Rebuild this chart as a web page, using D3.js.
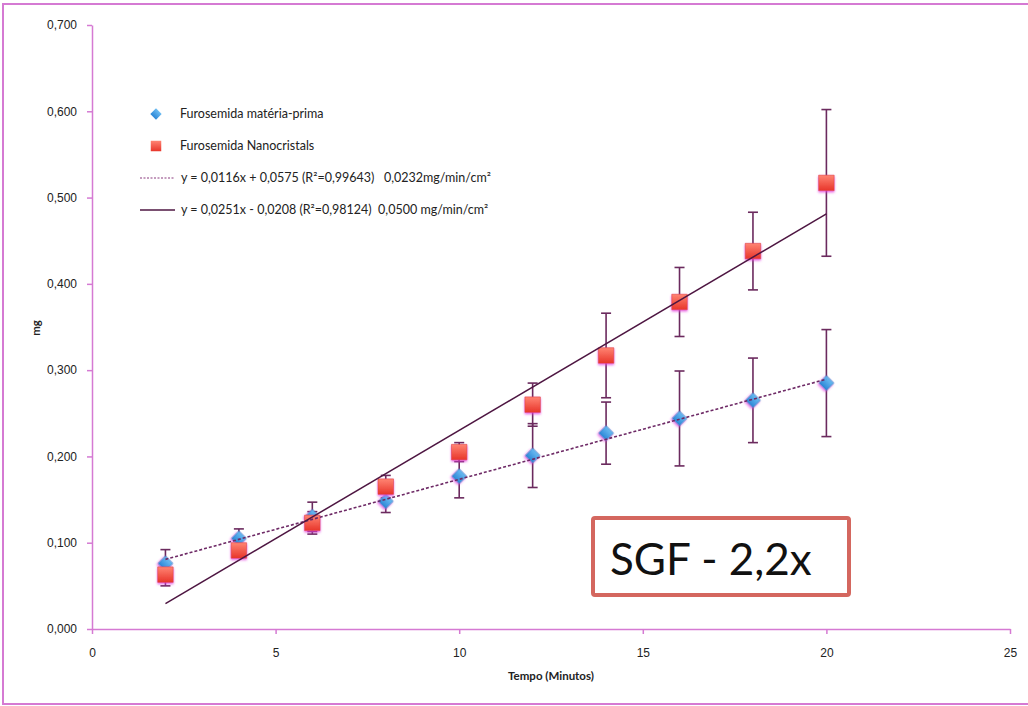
<!DOCTYPE html>
<html>
<head>
<meta charset="utf-8">
<script src="https://cdn.jsdelivr.net/npm/d3@7"></script>
<style>
  body { margin: 0; background: #fff; }
  svg { display: block; font-family: Lato, "Open Sans", sans-serif; }
  .tick text { fill: #222; font-size: 12px; }
</style>
</head>
<body>
<div id="chart"></div>
<script>
// tempo (min)
const tempo = [2, 4, 6, 8, 10, 12, 14, 16, 18, 20];

// Furosemida matéria-prima (mg) and its error
const materiaPrima = [0.076, 0.105, 0.130, 0.148, 0.177, 0.201, 0.227, 0.244, 0.265, 0.285];
const materiaPrimaErr = [0.016, 0.011, 0.017, 0.013, 0.025, 0.037, 0.036, 0.055, 0.049, 0.062];

// Furosemida Nanocristals (mg) and its error
const nano = [0.063, 0.091, 0.123, 0.165, 0.205, 0.260, 0.317, 0.379, 0.438, 0.517];
const nanoErr = [0.013, 0.007, 0.013, 0.013, 0.011, 0.025, 0.049, 0.040, 0.045, 0.085];

// linear fits from the legend
const fitMateria = { slope: 0.0116, intercept: 0.0575 };
const fitNano = { slope: 0.0251, intercept: -0.0208 };

const xTicks = [0, 5, 10, 15, 20, 25];
const yTicks = [0, 0.1, 0.2, 0.3, 0.4, 0.5, 0.6, 0.7];

const legendLabels = [
  'Furosemida matéria-prima',
  'Furosemida Nanocristals',
  'y = 0,0116x + 0,0575 (R²=0,99643)   0,0232mg/min/cm²',
  'y = 0,0251x - 0,0208 (R²=0,98124)  0,0500 mg/min/cm²'
];

const W = 1028, H = 706;
const axisColor = '#d57ad3';
const barColor = '#6b2a5e';
const lineColor = '#4e1642';

const svg = d3.select('#chart').append('svg')
  .attr('width', W).attr('height', H);

const defs = svg.append('defs');
const glow = defs.append('filter').attr('id', 'glow')
  .attr('x', '-50%').attr('y', '-50%').attr('width', '200%').attr('height', '200%');
glow.append('feDropShadow')
  .attr('dx', 0).attr('dy', 1.5).attr('stdDeviation', 1.3)
  .attr('flood-color', '#e23ee0').attr('flood-opacity', 0.8);

const blueGrad = defs.append('linearGradient').attr('id', 'blueGrad')
  .attr('x1', 0).attr('y1', 0).attr('x2', 0).attr('y2', 1);
blueGrad.append('stop').attr('offset', '0%').attr('stop-color', '#6cbcf2');
blueGrad.append('stop').attr('offset', '100%').attr('stop-color', '#2b86d6');

const redGrad = defs.append('linearGradient').attr('id', 'redGrad')
  .attr('x1', 0).attr('y1', 0).attr('x2', 0).attr('y2', 1);
redGrad.append('stop').attr('offset', '0%').attr('stop-color', '#ff8473');
redGrad.append('stop').attr('offset', '100%').attr('stop-color', '#e8352a');

// outer frame
svg.append('rect')
  .attr('x', 3).attr('y', 4).attr('width', W + 10).attr('height', 700)
  .attr('fill', 'none').attr('stroke', axisColor).attr('stroke-width', 2);

const x = d3.scaleLinear().domain([0, 25]).range([92, 1010]);
const y = d3.scaleLinear().domain([0, 0.7]).range([629, 25]);

const fmt = d => d3.format('.3f')(d).replace('.', ',');

const xAxisG = svg.append('g')
  .attr('transform', `translate(0,${y(0)})`)
  .call(d3.axisBottom(x).tickValues(xTicks).tickSize(5).tickPadding(14).tickSizeOuter(0));
const yAxisG = svg.append('g')
  .attr('transform', `translate(${x(0)},0)`)
  .call(d3.axisLeft(y).tickValues(yTicks).tickFormat(fmt).tickSize(5).tickPadding(10).tickSizeOuter(0));

[xAxisG, yAxisG].forEach(g => {
  g.select('.domain').attr('stroke', axisColor).attr('stroke-width', 1.5);
  g.selectAll('.tick line').attr('stroke', axisColor).attr('stroke-width', 1.5);
});

svg.append('text')
  .attr('x', 551).attr('y', 680)
  .attr('text-anchor', 'middle')
  .style('font-size', '11.5px').style('font-weight', 'bold').style('fill', '#222')
  .text('Tempo (Minutos)');

svg.append('text')
  .attr('transform', 'translate(40,328) rotate(-90)')
  .attr('text-anchor', 'middle')
  .style('font-size', '11.5px').style('font-weight', 'bold').style('fill', '#222')
  .text('mg');

// error bars
function errorBars(values, errs, cls) {
  const rows = tempo.map((t, i) => ({ t, v: values[i], e: errs[i] }));
  const g = svg.append('g').attr('class', cls)
    .attr('stroke', barColor).attr('stroke-width', 1.6);
  g.selectAll('line.stem').data(rows).join('line').attr('class', 'stem')
    .attr('x1', d => x(d.t)).attr('x2', d => x(d.t))
    .attr('y1', d => y(d.v - d.e)).attr('y2', d => y(d.v + d.e));
  g.selectAll('line.top').data(rows).join('line').attr('class', 'top')
    .attr('x1', d => x(d.t) - 5).attr('x2', d => x(d.t) + 5)
    .attr('y1', d => y(d.v + d.e)).attr('y2', d => y(d.v + d.e));
  g.selectAll('line.bot').data(rows).join('line').attr('class', 'bot')
    .attr('x1', d => x(d.t) - 5).attr('x2', d => x(d.t) + 5)
    .attr('y1', d => y(d.v - d.e)).attr('y2', d => y(d.v - d.e));
}
errorBars(materiaPrima, materiaPrimaErr, 'err-materia');
errorBars(nano, nanoErr, 'err-nano');

const diamond = d3.symbol().type(d3.symbolSquare).size(110);
const square = d3.symbol().type(d3.symbolSquare).size(240);

svg.append('g').selectAll('path')
  .data(tempo.map((t, i) => ({ t, v: materiaPrima[i] })))
  .join('path')
  .attr('d', diamond)
  .attr('transform', d => `translate(${x(d.t)},${y(d.v)}) rotate(45)`)
  .attr('fill', 'url(#blueGrad)').attr('stroke', '#2f7fc8').attr('stroke-width', 0.6)
  .attr('filter', 'url(#glow)');

svg.append('g').selectAll('path')
  .data(tempo.map((t, i) => ({ t, v: nano[i] })))
  .join('path')
  .attr('d', square)
  .attr('transform', d => `translate(${x(d.t)},${y(d.v)})`)
  .attr('fill', 'url(#redGrad)').attr('stroke', '#e0453a').attr('stroke-width', 0.6)
  .attr('filter', 'url(#glow)');

// trend lines
const t0 = d3.min(tempo), t1 = d3.max(tempo);
[[fitMateria, '3,2'], [fitNano, null]].forEach(([f, dash]) => {
  svg.append('line')
    .attr('x1', x(t0)).attr('y1', y(f.slope * t0 + f.intercept))
    .attr('x2', x(t1)).attr('y2', y(f.slope * t1 + f.intercept))
    .attr('stroke', dash ? '#6e2a66' : lineColor)
    .attr('stroke-width', dash ? 1.6 : 1.5)
    .attr('stroke-dasharray', dash);
});

// legend
const legend = svg.append('g');
const legendY = [114, 146, 178, 210];
legend.append('path').attr('d', d3.symbol().type(d3.symbolSquare).size(64))
  .attr('transform', `translate(156,${legendY[0]}) rotate(45)`)
  .attr('fill', 'url(#blueGrad)');
legend.append('path').attr('d', d3.symbol().type(d3.symbolSquare).size(110))
  .attr('transform', `translate(156,${legendY[1]})`)
  .attr('fill', 'url(#redGrad)');
legend.append('line').attr('x1', 140).attr('x2', 175)
  .attr('y1', legendY[2]).attr('y2', legendY[2])
  .attr('stroke', '#8a3a7e').attr('stroke-width', 1.2).attr('stroke-dasharray', '2,1.5');
legend.append('line').attr('x1', 140).attr('x2', 175)
  .attr('y1', legendY[3]).attr('y2', legendY[3])
  .attr('stroke', lineColor).attr('stroke-width', 1.5);
legend.selectAll('text').data(legendLabels).join('text')
  .attr('x', (d, i) => i < 2 ? 180 : 181)
  .attr('y', (d, i) => legendY[i] + 4)
  .style('font-size', '12.5px').style('fill', '#222')
  .style('white-space', 'pre')
  .text(d => d);

// SGF annotation box
svg.append('rect')
  .attr('x', 593).attr('y', 518).attr('width', 256).attr('height', 77)
  .attr('rx', 2)
  .attr('fill', '#fff').attr('stroke', '#d4675f').attr('stroke-width', 4);
svg.append('text')
  .attr('x', 610).attr('y', 575)
  .style('font-size', '44px').style('fill', '#111')
  .text('SGF - 2,2x');
</script>
</body>
</html>
